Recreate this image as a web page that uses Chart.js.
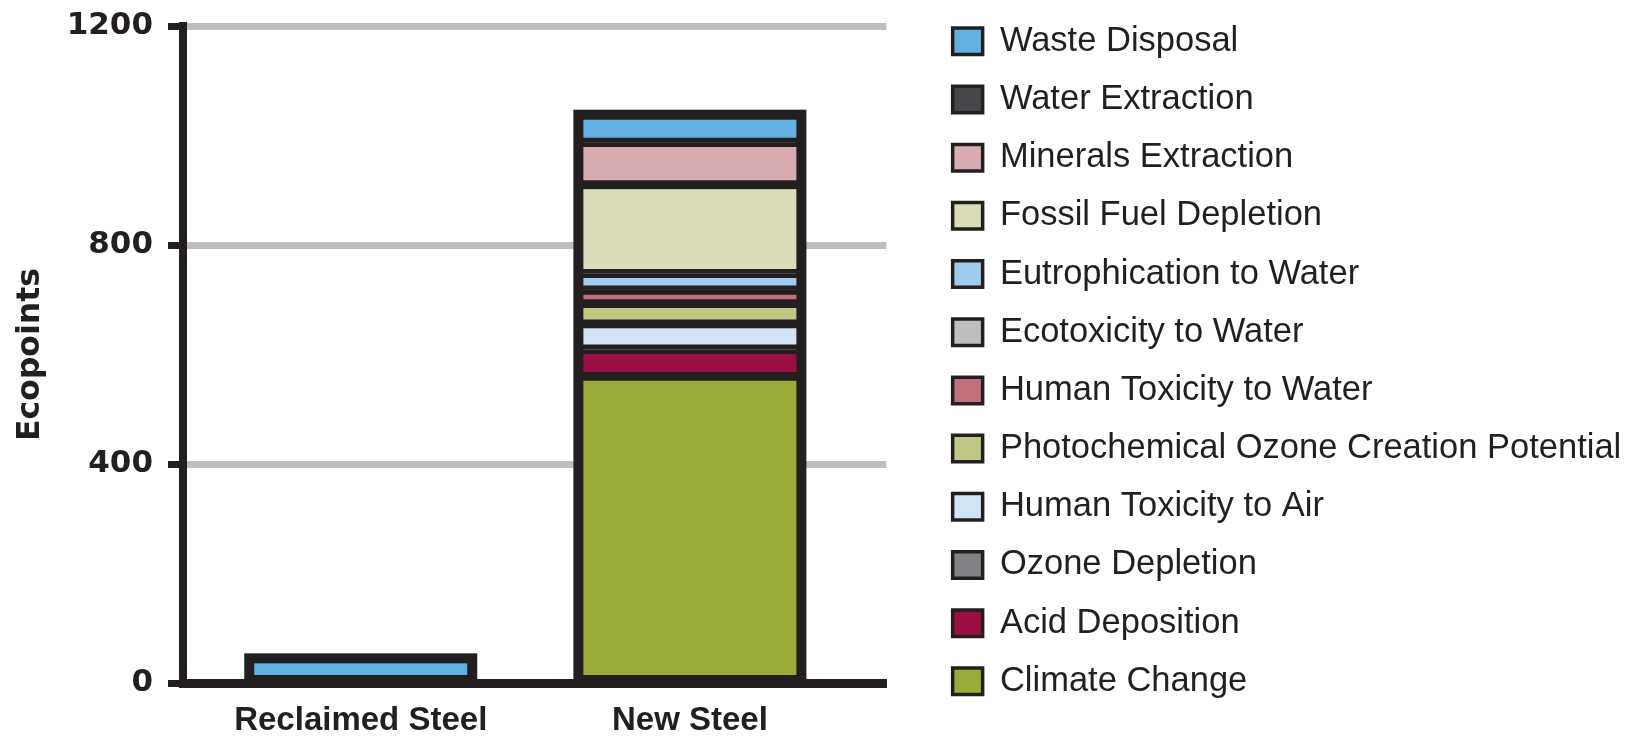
<!DOCTYPE html>
<html>
<head>
<meta charset="utf-8">
<title>Ecopoints: Reclaimed vs New Steel</title>
<script src="https://cdn.jsdelivr.net/npm/chart.js@4.4.1/dist/chart.umd.min.js"></script>
<style>
  html, body { margin: 0; padding: 0; background: #ffffff; }
  #wrap { width: 1632px; height: 741px; position: relative; }
</style>
</head>
<body>
<div id="wrap"><canvas id="ecoChart"></canvas></div>
<script>
// categories on the x axis
const categories = ['Reclaimed Steel', 'New Steel'];

// impact categories, stacked from the bottom up
const impacts = [
  'Climate Change',
  'Acid Deposition',
  'Ozone Depletion',
  'Human Toxicity to Air',
  'Photochemical Ozone Creation Potential',
  'Human Toxicity to Water',
  'Ecotoxicity to Water',
  'Eutrophication to Water',
  'Fossil Fuel Depletion',
  'Minerals Extraction',
  'Water Extraction',
  'Waste Disposal'
];

// ecopoints per impact (same order as impacts)
const reclaimedSteel = [0, 0, 0, 0, 0, 0, 0, 0, 0, 0, 0, 45];
const newSteel = [560, 49, 1, 46, 37, 24, 1, 30, 162, 77, 1, 50];

const yTicks = [0, 400, 800, 1200];

const colors = ['#9aab3a', '#9c0f45', '#808285', '#d3e5f5', '#c1c784', '#c16f7a',
                '#bcbec0', '#9fcbee', '#dbdcb9', '#d8abb1', '#454649', '#62b1e2'];
const ink = '#231f20';

// thick outline round each whole stack
const stackOutline = {
  id: 'stackOutline',
  afterDatasetsDraw(chart) {
    const ctx = chart.ctx;
    const base = chart.scales.y.getPixelForValue(0);
    categories.forEach((c, i) => {
      let top = base, x = 0, w = 0;
      chart.data.datasets.forEach((ds, d) => {
        const bar = chart.getDatasetMeta(d).data[i];
        if (ds.data[i] > 0 && bar.y < top) top = bar.y;
        x = bar.x;
        w = bar.width;
      });
      ctx.save();
      ctx.strokeStyle = ink;
      ctx.lineWidth = 10;
      ctx.strokeRect(x - w / 2, top, w, base - top);
      ctx.restore();
    });
  }
};

Chart.defaults.font.family = '"Liberation Sans", Arial, sans-serif';
Chart.defaults.color = ink;

const defaultLabels = Chart.defaults.plugins.legend.labels.generateLabels;

new Chart(document.getElementById('ecoChart'), {
  type: 'bar',
  data: {
    labels: categories.map((c, i) => i),
    datasets: impacts.map((name, k) => ({
      label: name,
      data: [reclaimedSteel[k], newSteel[k]],
      backgroundColor: colors[k],
      borderColor: ink,
      borderWidth: 4.75,
      borderSkipped: false,
      barThickness: 223
    }))
  },
  options: {
    responsive: true,
    maintainAspectRatio: false,
    animation: false,
    layout: { padding: { left: 12, right: 0.75, top: 0, bottom: 0 } },
    plugins: {
      tooltip: { enabled: false },
      legend: {
        position: 'right',
        align: 'start',
        reverse: true,
        maxWidth: 760,
        labels: {
          boxWidth: 30,
          boxHeight: 26.5,
          padding: 24,
          color: ink,
          font: { size: 34.5, lineHeight: 0.991 },
          generateLabels(chart) {
            return defaultLabels(chart).map(item => {
              item.text = [item.text];
              item.lineWidth = 3.5;
              return item;
            });
          }
        }
      }
    },
    scales: {
      x: {
        type: 'linear',
        stacked: true,
        offset: false,
        min: -0.54,
        max: 1.597,
        afterBuildTicks(scale) {
          scale.ticks = categories.map((c, i) => ({ value: i }));
        },
        afterFit(scale) { scale.height = 58; },
        grid: { display: false, drawTicks: false },
        border: { color: ink, width: 9 },
        ticks: {
          autoSkip: false,
          maxRotation: 0,
          padding: 18,
          color: ink,
          font: { size: 33, weight: 'bold' },
          callback: (value) => categories[value]
        }
      },
      y: {
        stacked: true,
        min: 0,
        max: 1200,
        afterBuildTicks(scale) {
          scale.ticks = yTicks.map(v => ({ value: v }));
        },
        afterFit(scale) { scale.width = 171; },
        grid: {
          color: '#bcbec0',
          lineWidth: 7,
          tickColor: ink,
          tickLength: 15,
          tickWidth: 7
        },
        border: { color: ink, width: 8 },
        ticks: {
          padding: 15,
          color: ink,
          font: { family: '"DejaVu Sans", sans-serif', size: 31, weight: 'bold', lineHeight: 0.71 },
          callback: (value) => String(value)
        },
        title: {
          display: true,
          text: 'Ecopoints',
          color: ink,
          padding: { top: 0, bottom: 0 },
          font: { family: '"DejaVu Sans", sans-serif', size: 31.5, weight: 'bold', lineHeight: 1.2 }
        }
      },
      gap: {
        type: 'linear',
        position: 'right',
        display: true,
        grid: { display: false, drawTicks: false },
        border: { display: false },
        ticks: { display: false },
        afterFit(scale) { scale.width = 42.25; }
      }
    }
  },
  plugins: [stackOutline]
});
</script>
</body>
</html>
